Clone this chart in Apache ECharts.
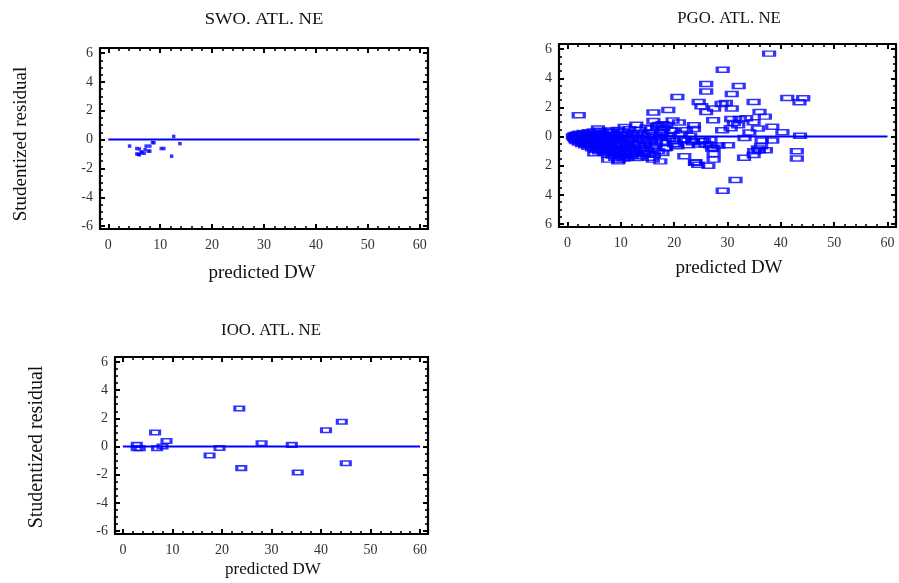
<!DOCTYPE html>
<html>
<head>
<meta charset="utf-8">
<script src="https://cdn.jsdelivr.net/npm/echarts@6/dist/echarts.min.js"></script>
<style>
  html, body { margin: 0; padding: 0; background: #fff; }
  #chart { width: 899px; height: 583px; }
</style>
</head>
<body>
<div id="chart"></div>
<script>
// Tick positions shared by the three residual panels
const xTicks = [0, 10, 20, 30, 40, 50, 60];
const yTicks = [-6, -4, -2, 0, 2, 4, 6];

const panelTitles = ['SWO. ATL. NE', 'PGO. ATL. NE', 'IOO. ATL. NE'];
const xAxisName = 'predicted DW';
const yAxisName = 'Studentized residual';

// Studentized residual vs predicted DW, SWO
const swoResiduals = [
  [4.1, -0.45], [5.5, -0.62], [6.0, -0.65], [5.5, -1.0], [6.0, -1.05], [5.8, -1.02],
  [6.5, -0.85], [6.3, -0.92], [6.9, -0.95], [7.1, -0.7], [7.3, -0.45], [7.7, -0.8],
  [8.0, -0.45], [8.0, -0.8], [8.5, -0.2], [8.8, -0.22], [10.2, -0.62], [10.7, -0.62],
  [12.2, -1.15], [12.6, 0.22], [13.8, -0.28]
];

// Studentized residual vs predicted DW, PGO
const pgoResiduals = [
  // dense group at small predicted values
  [1.0, 0.0], [1.2, -0.1], [1.3, 0.1], [1.4, -0.2], [1.5, 0.0], [1.6, -0.3], [1.7, 0.15], [1.9, -0.1],
  [1.8, 0.0], [2.0, -0.2], [2.3, -0.3], [2.5, 0.1], [2.8, -0.1], [3.1, -0.4], [3.4, 0.15], [3.7, -0.5],
  [2.1, -0.4], [2.2, 0.2], [2.4, -0.15], [2.6, 0.05], [2.7, -0.5], [2.9, -0.25], [3.0, 0.25], [3.2, -0.05],
  [3.3, -0.6], [3.5, -0.35], [3.6, 0.1], [3.8, -0.2], [3.9, -0.7], [4.0, 0.3],
  [4.1, -0.25], [4.4, -0.6], [4.8, -0.1], [5.2, -0.35], [5.6, -0.55], [6.3, -0.7], [6.7, 0.0],
  [4.2, -0.45], [4.3, -0.1], [4.5, 0.15], [4.6, -0.8], [4.7, -0.3], [4.9, 0.35], [5.0, -0.6], [5.1, 0.0],
  [5.3, -0.9], [5.4, -0.4], [5.5, 0.2], [5.7, -0.15], [5.8, -0.7], [6.0, 0.4], [5.9, -1.0],
  [6.1, -0.5], [6.2, -0.05], [6.4, -0.9], [6.5, 0.25], [6.6, -0.3], [6.8, -1.1], [6.9, -0.6], [7.0, 0.1],
  [7.1, -0.4], [7.4, -1.0], [7.8, -0.7], [8.3, -0.1], [8.7, -1.1], [9.1, -0.8], [9.5, -0.1],
  [7.2, -0.2], [7.3, -0.85], [7.5, 0.35], [7.6, -1.25], [7.7, -0.45], [7.9, -0.05], [8.0, -1.0],
  [8.1, 0.3], [8.2, -0.65], [8.4, -1.3], [8.5, -0.25], [8.6, 0.15], [8.8, -0.9], [8.9, -1.45], [9.0, -0.5],
  [9.2, 0.05], [9.3, -1.15], [9.4, 0.45], [9.5, -0.75], [9.6, -1.6], [9.7, -0.3], [9.9, -1.0], [10.0, 0.2],
  [9.8, -1.25], [10.3, -0.8], [10.7, -1.05], [11.1, -0.6], [11.4, -0.15], [11.9, -0.85], [12.2, -0.45],
  [10.1, -1.35], [10.2, -0.55], [10.4, -0.1], [10.5, -1.5], [10.6, 0.35], [10.8, -0.85], [10.9, -1.2],
  [11.0, -0.35], [11.2, 0.1], [11.3, -1.45], [11.5, -0.7], [11.6, 0.5], [11.8, -1.05], [12.0, -0.2],
  [12.1, -1.3], [12.3, 0.25], [12.5, -0.55], [12.6, -0.95], [12.8, 0.0], [13.0, -1.2],
  [12.7, -1.1], [13.1, 0.25], [13.5, -0.6], [13.9, -0.15], [14.3, -0.85], [14.9, -0.3], [15.3, -1.2],
  [13.2, -0.4], [13.4, 0.45], [13.6, -0.8], [13.8, -1.35], [14.0, 0.15], [14.2, -0.25], [14.4, -1.1],
  [14.6, -0.6], [14.8, 0.6], [15.0, -0.95], [15.2, 0.0], [15.4, -1.45], [15.5, -0.4], [15.8, 0.3],
  [16.0, -0.75], [16.2, -1.25], [16.4, 0.1], [16.6, -0.3], [16.8, 0.75], [17.0, -1.0],
  [15.7, 0.55], [16.5, -0.55],
  // edges of the dense group
  [2.1, 1.47], [5.7, 0.55], [8.0, 0.42], [10.7, 0.65], [12.9, 0.82], [16.1, 1.07], [16.1, 1.65],
  [5.0, -1.14], [7.6, -1.58], [9.5, -1.7], [11.1, -1.35], [12.9, -1.47], [14.4, -1.12], [16.0, -1.58],
  [17.4, -1.7],
  // mid range
  [17.2, 0.8], [17.5, 0.3], [17.8, -0.35], [18.0, 0.6], [18.3, -0.8], [18.5, 0.8], [18.8, 0.05],
  [19.1, -0.1], [19.4, 0.45], [19.7, 1.1], [19.7, 0.4], [20.0, -0.5], [20.3, -0.3], [20.6, -0.66],
  [20.9, 0.96], [21.3, 0.2], [21.9, -0.2], [22.2, 0.43], [22.6, -0.6], [23.0, 0.05], [23.4, -0.3],
  [23.7, 0.78], [23.7, 0.52], [23.5, -0.38], [24.6, -0.54], [17.8, 0.84], [17.8, 0.26], [17.5, 0.15],
  [17.5, -0.08], [18.9, 1.82], [20.3, -0.54], [21.9, -1.35], [18.5, -0.77], [17.8, -1.12], [24.0, -1.76],
  [20.6, 2.71],
  // larger predicted values
  [37.8, 5.69], [29.1, 4.58], [26.0, 3.61], [26.0, 3.1], [32.1, 3.47], [30.8, 2.92],
  [24.6, 2.37], [25.1, 2.08], [26.0, 1.68], [27.5, 1.93], [28.9, 2.23], [29.7, 2.3], [30.8, 1.93],
  [34.9, 2.38], [36.0, 1.68], [37.0, 1.37], [41.2, 2.64], [43.5, 2.36], [44.2, 2.63],
  [27.3, 1.12], [30.7, 1.21], [31.2, 0.93], [32.3, 1.21], [33.5, 1.26], [34.9, 0.98], [35.7, 0.56],
  [38.4, 0.68], [34.1, 0.28], [29.0, 0.43], [30.6, 0.57], [32.0, 0.78], [40.3, 0.29], [43.6, 0.06],
  [33.2, -0.1], [36.4, -0.26], [38.4, -0.26], [36.3, -0.66], [35.9, -0.94], [37.2, -0.94], [35.0, -1.0],
  [34.9, -1.27], [33.1, -1.45], [43.0, -1.0], [43.0, -1.5], [31.5, -2.97], [29.1, -3.72],
  [25.6, -0.3], [26.8, -0.2], [26.8, -0.6], [27.1, -0.82], [28.3, -0.61], [30.1, -0.6], [27.4, -0.77],
  [27.4, -1.19], [27.4, -1.58], [26.4, -2.0], [23.9, -1.8], [24.5, -1.93], [25.2, -0.31], [25.9, -0.54],
  [21.9, -0.19], [35.7, -0.82]
];

// Studentized residual vs predicted DW, IOO
const iooResiduals = [
  [2.8, 0.12], [2.8, -0.12], [3.4, -0.12], [6.5, 1.0], [6.9, -0.12], [8.0, 0.0], [8.8, 0.4],
  [17.5, -0.64], [19.5, -0.1], [23.5, 2.7], [23.9, -1.53], [28.0, 0.23], [34.1, 0.12],
  [35.3, -1.84], [41.0, 1.15], [44.2, 1.76], [45.0, -1.18]
];

// Zero reference line
const zeroLine = [[0, 0], [60, 0]];

const FONT = '"Liberation Serif", "Times New Roman", serif';
const BLUE = '#0000ff';
const xMinorTicks = [];
for (let v = 0; v <= 60; v += 2) xMinorTicks.push(v);
const yMinorTicks = [];
for (let v = -12; v <= 12; v += 1) yMinorTicks.push(v / 2);

const X_MIN = -1.6, X_MAX = 61.6, Y_MIN = -6.2, Y_MAX = 6.35;

const grids = [
  { left: 100, top: 48, width: 328, height: 181 },
  { left: 559, top: 44, width: 337, height: 183 },
  { left: 115, top: 357, width: 313, height: 177 }
];

const xAxes = [];
const yAxes = [];
grids.forEach((g, gi) => {
  const absLabels = gi === 1;
  const sides = [
    { pos: 'bottom', major: true }, { pos: 'bottom', major: false },
    { pos: 'top', major: true }, { pos: 'top', major: false }
  ];
  sides.forEach(s => {
    xAxes.push({
      type: 'value', gridIndex: gi, position: s.pos, min: X_MIN, max: X_MAX,
      axisLine: { show: s.major, onZero: false, lineStyle: { color: '#000', width: 2.2 } },
      axisTick: {
        show: true, inside: true, length: s.major ? 5 : 3,
        customValues: s.major ? xTicks : xMinorTicks,
        lineStyle: { color: '#000', width: s.major ? 2 : 1.6 }
      },
      axisLabel: {
        show: s.major && s.pos === 'bottom', customValues: xTicks, margin: 9,
        fontFamily: FONT, fontSize: 14, color: '#333'
      },
      splitLine: { show: false }
    });
  });
  const ySides = [
    { pos: 'left', major: true }, { pos: 'left', major: false },
    { pos: 'right', major: true }, { pos: 'right', major: false }
  ];
  ySides.forEach(s => {
    yAxes.push({
      type: 'value', gridIndex: gi, position: s.pos, min: Y_MIN, max: Y_MAX,
      axisLine: { show: s.major, onZero: false, lineStyle: { color: '#000', width: 2.2 } },
      axisTick: {
        show: true, inside: true, length: s.major ? 5 : 3,
        customValues: s.major ? yTicks : yMinorTicks,
        lineStyle: { color: '#000', width: s.major ? 2 : 1.6 }
      },
      axisLabel: {
        show: s.major && s.pos === 'left', customValues: yTicks, margin: 7,
        fontFamily: FONT, fontSize: 14, color: '#333',
        formatter: v => absLabels ? String(Math.abs(v)) : String(v)
      },
      splitLine: { show: false }
    });
  });
});

function zeroSeries(gi) {
  return {
    type: 'line', xAxisIndex: gi * 4, yAxisIndex: gi * 4, data: zeroLine,
    symbol: 'none', silent: true, z: 1,
    lineStyle: { color: BLUE, width: 2 }
  };
}

function hollowRects(gi, data, size, border) {
  return {
    type: 'scatter', xAxisIndex: gi * 4, yAxisIndex: gi * 4, data: data,
    symbol: 'rect', symbolSize: size, z: 2,
    itemStyle: { color: 'rgba(255,255,255,0)', borderColor: BLUE, borderWidth: border }
  };
}

function label(text, x, y, size, extra) {
  return Object.assign({
    type: 'text', x: x, y: y,
    style: { text: text, fontFamily: FONT, fontSize: size, fill: '#111', textAlign: 'center', textVerticalAlign: 'middle' }
  }, extra || {});
}

const graphics = [
  label(panelTitles[0], 264, 20, 16, { scaleX: 1.16 }),
  label(panelTitles[1], 729, 19, 16, { scaleX: 1.05 }),
  label(panelTitles[2], 271, 331, 16, { scaleX: 1.05 }),
  label(xAxisName, 262, 273, 19),
  label(xAxisName, 729, 268, 19),
  label(xAxisName, 273, 570, 17),
  label(yAxisName, 21, 144, 19, { rotation: Math.PI / 2 }),
  label(yAxisName, 37, 447, 20, { rotation: Math.PI / 2 })
];

const chart = echarts.init(document.getElementById('chart'), null, { renderer: 'canvas' });
chart.setOption({
  animation: false,
  backgroundColor: '#fff',
  grid: grids,
  xAxis: xAxes,
  yAxis: yAxes,
  graphic: graphics,
  series: [
    zeroSeries(0),
    {
      type: 'scatter', xAxisIndex: 0, yAxisIndex: 0, data: swoResiduals,
      symbol: 'rect', symbolSize: 3.5, z: 2, itemStyle: { color: BLUE }
    },
    zeroSeries(1),
    hollowRects(1, pgoResiduals, [11, 5], 2.2),
    zeroSeries(2),
    hollowRects(2, iooResiduals, [9, 4.5], 2.2)
  ]
});
</script>
</body>
</html>
